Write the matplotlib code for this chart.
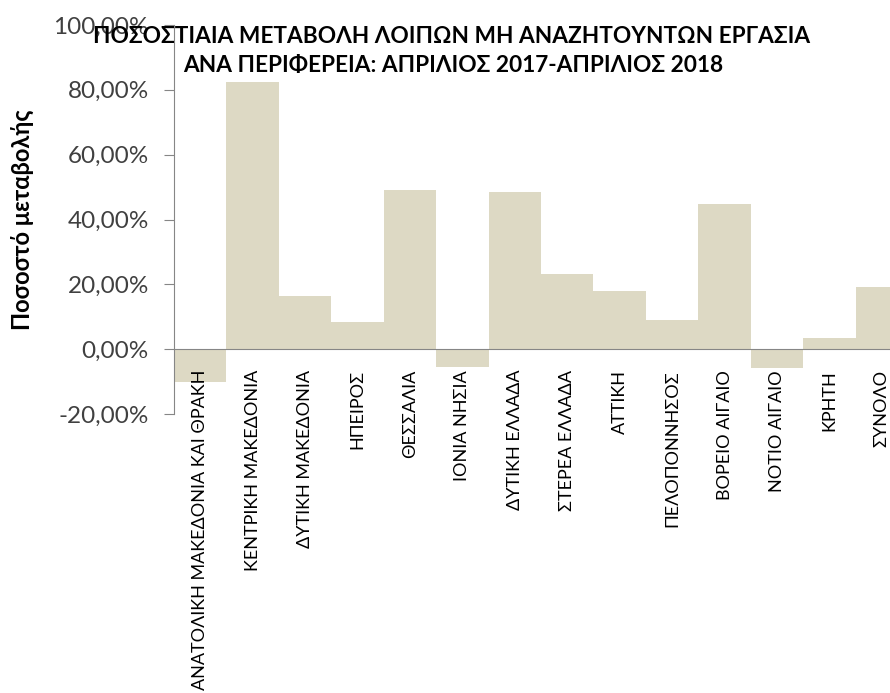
import matplotlib
matplotlib.use("Agg")
import matplotlib.pyplot as plt
from matplotlib.ticker import FuncFormatter, MultipleLocator

plt.rcParams['font.family'] = ['Lato', 'DejaVu Sans']

regions = ["ΑΝΑΤΟΛΙΚΗ ΜΑΚΕΔΟΝΙΑ ΚΑΙ ΘΡΑΚΗ", "ΚΕΝΤΡΙΚΗ ΜΑΚΕΔΟΝΙΑ",
           "ΔΥΤΙΚΗ ΜΑΚΕΔΟΝΙΑ", "ΗΠΕΙΡΟΣ", "ΘΕΣΣΑΛΙΑ", "ΙΟΝΙΑ ΝΗΣΙΑ",
           "ΔΥΤΙΚΗ ΕΛΛΑΔΑ", "ΣΤΕΡΕΑ ΕΛΛΑΔΑ", "ΑΤΤΙΚΗ", "ΠΕΛΟΠΟΝΝΗΣΟΣ",
           "ΒΟΡΕΙΟ ΑΙΓΑΙΟ", "ΝΟΤΙΟ ΑΙΓΑΙΟ", "ΚΡΗΤΗ", "ΣΥΝΟΛΟ"]
change_pct = [-10.1, 82.5, 16.4, 8.4, 49.2, -5.4, 48.4, 23.1, 17.9, 9.1,
              44.8, -5.7, 3.3, 19.1]

title_lines = ["ΠΟΣΟΣΤΙΑΙΑ ΜΕΤΑΒΟΛΗ ΛΟΙΠΩΝ ΜΗ ΑΝΑΖΗΤΟΥΝΤΩΝ ΕΡΓΑΣΙΑ",
               "ΑΝΑ ΠΕΡΙΦΕΡΕΙΑ: ΑΠΡΙΛΙΟΣ 2017-ΑΠΡΙΛΙΟΣ 2018"]

W, H = 890, 693
fig = plt.figure(figsize=(W / 100, H / 100), dpi=100)
# plot area runs past the right edge, as in the cropped original
ax = fig.add_axes([174 / W, (H - 414) / H, 734 / W, (414 - 25) / H])

ax.bar(range(len(regions)), change_pct, width=1.0, color='#DDD9C4')
ax.set_xlim(-0.5, len(regions) - 0.5)
ax.set_ylim(-20, 100)
ax.yaxis.set_major_locator(MultipleLocator(20))
ax.yaxis.set_major_formatter(FuncFormatter(lambda v, p: f"{v:.2f}%".replace('.', ',')))

for s in ['top', 'right']:
    ax.spines[s].set_visible(False)
ax.spines['bottom'].set_position(('data', 0))
ax.spines['bottom'].set_color('#868686')
ax.spines['left'].set_color('#868686')
ax.tick_params(axis='y', length=7, color='#868686', pad=11, labelsize=17.5,
               labelcolor='#404040')
ax.tick_params(axis='x', length=0, pad=15)
ax.set_xticks(range(len(regions)))
ax.set_xticklabels(regions, rotation=90, va='top', ha='center', fontsize=13)

ax.set_ylabel("Ποσοστό μεταβολής", fontsize=17, fontweight='bold', labelpad=14)

# title overlaps the top tick label, like the original
fig.text(452 / W, 1 - 43 / H, title_lines[0], ha='center', va='baseline',
         fontsize=16.3, fontweight='bold')
fig.text(453 / W, 1 - 72 / H, title_lines[1], ha='center', va='baseline',
         fontsize=16.3, fontweight='bold')

plt.savefig("out.png", dpi=100)
